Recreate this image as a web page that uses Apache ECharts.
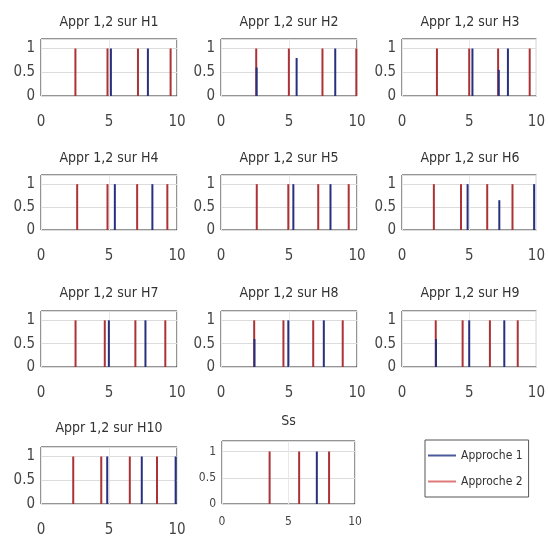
<!DOCTYPE html>
<html><head><meta charset="utf-8">
<script src="https://cdn.jsdelivr.net/npm/echarts@6/dist/echarts.min.js"></script>
<style>html,body{margin:0;padding:0;background:#fff}#c{width:548px;height:540px}</style>
</head><body><div id="c"></div>
<script>
// ---- data ----
const panelTitles = ['Appr 1,2 sur H1','Appr 1,2 sur H2','Appr 1,2 sur H3','Appr 1,2 sur H4','Appr 1,2 sur H5',
  'Appr 1,2 sur H6','Appr 1,2 sur H7','Appr 1,2 sur H8','Appr 1,2 sur H9','Appr 1,2 sur H10','Ss'];
const xTickValues = [0, 5, 10];
const yTickValues = [0, 0.5, 1];
const seriesNames = ['Approche 1', 'Approche 2'];

const H1_approche1 = [[5.14,1],[7.86,1]];
const H1_approche2 = [[2.53,1],[4.89,1],[7.13,1],[9.53,1]];
const H2_approche1 = [[2.62,0.6],[5.56,0.8],[8.4,1]];
const H2_approche2 = [[2.59,1],[4.99,1],[7.46,1],[9.95,1]];
const H3_approche1 = [[5.24,1],[7.2,0.55],[7.88,1]];
const H3_approche2 = [[2.6,1],[5.0,1],[7.15,1],[9.5,1]];
const H4_approche1 = [[5.43,1],[8.19,1]];
const H4_approche2 = [[2.66,1],[4.89,1],[7.07,1],[9.29,1]];
const H5_approche1 = [[5.32,1],[8.05,1]];
const H5_approche2 = [[2.63,1],[4.95,1],[7.15,1],[9.39,1]];
const H6_approche1 = [[4.88,1],[7.24,0.65],[9.83,1]];
const H6_approche2 = [[2.37,1],[4.39,1],[6.34,1],[8.22,1]];
const H7_approche1 = [[4.99,1],[7.68,1]];
const H7_approche2 = [[2.54,1],[4.69,1],[6.94,1],[9.14,1]];
const H8_approche1 = [[2.46,0.6],[4.95,1],[7.56,1]];
const H8_approche2 = [[2.44,1],[4.59,1],[6.78,1],[8.95,1]];
const H9_approche1 = [[2.53,0.6],[5.0,1],[7.61,1]];
const H9_approche2 = [[2.51,1],[4.51,1],[6.54,1],[8.61,1]];
const H10_approche1 = [[4.87,1],[7.41,1],[9.9,1]];
const H10_approche2 = [[2.37,1],[4.43,1],[6.53,1],[8.53,1]];
const Ss_approche1 = [[7.13,1]];
const Ss_approche2 = [[3.58,1],[5.8,1],[8.05,1]];

const approche1 = [H1_approche1,H2_approche1,H3_approche1,H4_approche1,H5_approche1,H6_approche1,
  H7_approche1,H8_approche1,H9_approche1,H10_approche1,Ss_approche1];
const approche2 = [H1_approche2,H2_approche2,H3_approche2,H4_approche2,H5_approche2,H6_approche2,
  H7_approche2,H8_approche2,H9_approche2,H10_approche2,Ss_approche2];

// ---- layout ----
const FONT = '"DejaVu Sans Condensed","Liberation Sans Narrow",sans-serif';
const colLeft = [41, 221, 402];
const rowTop = [39, 175, 311, 447];
const rowH = [57, 55, 56, 57];
const boxes = [];
for (let i = 0; i < 10; i++) {
  const r = Math.floor(i / 3), c = i % 3;
  boxes.push({left: colLeft[c], top: rowTop[r], width: 136, height: rowH[r]});
}
boxes.push({left: 222, top: 441, width: 133, height: 63});
const titleY = [15, 151, 286, 421];

const BLUE = '#27307f', RED = '#ad3236';

const grid = [], xAxis = [], yAxis = [], series = [], title = [];
boxes.forEach((b, i) => {
  const isSs = i === 10;
  grid.push({left: b.left, top: b.top, width: b.width, height: b.height, show: true,
    borderColor: '#2a2a2a', borderWidth: 1, backgroundColor: '#fff'});
  xAxis.push({type: 'value', gridIndex: i, min: 0, max: 10, interval: 5,
    axisLine: {show: false}, axisTick: {show: false},
    axisLabel: {margin: isSs ? 12 : 19, fontFamily: FONT, fontSize: isSs ? 12 : 15, color: '#444',
      formatter: v => xTickValues.includes(v) ? String(v) : ''},
    splitLine: {show: true, lineStyle: {color: '#e8e8e8', width: 1}}});
  yAxis.push({type: 'value', gridIndex: i, min: 0, max: 1.2, interval: 0.5,
    axisLine: {show: false}, axisTick: {show: false},
    axisLabel: {margin: 6, fontFamily: FONT, fontSize: isSs ? 12 : 15, color: '#444',
      formatter: v => yTickValues.includes(v) ? String(v) : ''},
    splitLine: {show: true, lineStyle: {color: '#dcdcdc', width: 1}}});
  series.push({name: seriesNames[1], type: 'bar', xAxisIndex: i, yAxisIndex: i, data: approche2[i],
    barWidth: 2, barGap: '-100%', itemStyle: {color: RED}});
  series.push({name: seriesNames[0], type: 'bar', xAxisIndex: i, yAxisIndex: i, data: approche1[i],
    barWidth: 2, barGap: '-100%', itemStyle: {color: BLUE}});
  const r = Math.floor(i / 3);
  title.push({text: panelTitles[i], left: b.left + b.width / 2, textAlign: 'center',
    top: isSs ? 414 : titleY[r], padding: 0,
    textStyle: {fontFamily: FONT, fontSize: 14, fontWeight: 'normal', color: '#333'}});
});

const chart = echarts.init(document.getElementById('c'), null, {renderer: 'canvas'});
chart.setOption({
  animation: false,
  backgroundColor: '#fff',
  title, grid, xAxis, yAxis, series,
  legend: {
    orient: 'vertical', left: 425, top: 440, padding: [9, 6, 9, 3], itemGap: 13,
    itemWidth: 28, itemHeight: 2, itemTextGap: 3, icon: 'rect',
    borderColor: '#555', borderWidth: 1, backgroundColor: '#fff',
    textStyle: {fontFamily: FONT, fontSize: 12, lineHeight: 13, color: '#333'},
    data: [
      {name: seriesNames[0], itemStyle: {color: '#4a5a9a'}},
      {name: seriesNames[1], itemStyle: {color: '#e07a7a'}}
    ]
  }
});
</script></body></html>
